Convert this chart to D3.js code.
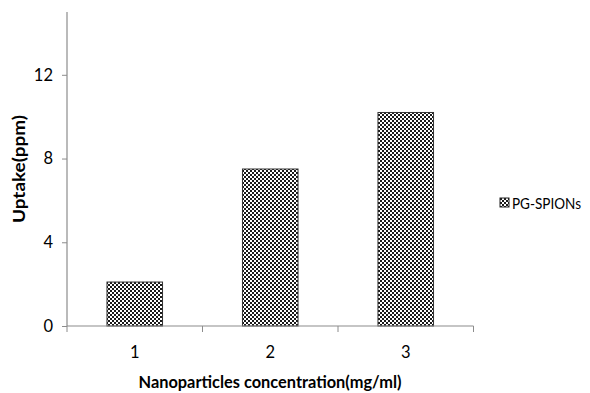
<!DOCTYPE html>
<html>
<head>
<meta charset="utf-8">
<script src="https://cdn.jsdelivr.net/npm/d3@7"></script>
<style>
  html, body { margin: 0; padding: 0; background: #fff; }
  svg { display: block; }
  text { font-family: Lato, "Open Sans", sans-serif; fill: #000; }
</style>
</head>
<body>
<svg id="chart" width="590" height="393"></svg>
<script>
// Uptake by concentration
const categories = ["1", "2", "3"];
const uptake = [2.1, 7.5, 10.2];
const yTicks = [0, 4, 8, 12];
const seriesName = "PG-SPIONs";
const xTitle = "Nanoparticles concentration(mg/ml)";
const yTitle = "Uptake(ppm)";

const svg = d3.select("#chart");
const plot = { left: 67, right: 473.5, top: 12, bottom: 326 };

// checkerboard fill
const defs = svg.append("defs");
const pat = defs.append("pattern")
  .attr("id", "checker").attr("patternUnits", "userSpaceOnUse")
  .attr("width", 4).attr("height", 4);
pat.append("rect").attr("width", 4).attr("height", 4).attr("fill", "#fff");
pat.append("rect").attr("width", 2).attr("height", 2).attr("fill", "#1a1a1a");
pat.append("rect").attr("x", 2).attr("y", 2).attr("width", 2).attr("height", 2).attr("fill", "#1a1a1a");

const x = d3.scaleBand().domain(categories).range([plot.left, plot.right]).paddingInner(0.59).paddingOuter(0.295);
const xCat = d3.scaleBand().domain(categories).range([plot.left, plot.right]);
const y = d3.scaleLinear().domain([0, 15]).range([plot.bottom, plot.top]);

// bars
svg.append("g").selectAll("rect").data(uptake).join("rect")
  .attr("x", (d, i) => x(categories[i]))
  .attr("width", x.bandwidth())
  .attr("y", d => y(d))
  .attr("height", d => y(0) - y(d))
  .attr("fill", "url(#checker)")
  .attr("stroke", "#333").attr("stroke-width", 1);

// y axis
const yAxis = svg.append("g").attr("transform", `translate(${plot.left},0)`)
  .call(d3.axisLeft(y).tickValues(yTicks).tickSize(5).tickPadding(9).tickFormat(d3.format("d")));
yAxis.select(".domain").attr("stroke", "#8c8c8c").attr("stroke-width", 1.2)
  .attr("d", `M0,${plot.top}V${plot.bottom}`);
yAxis.selectAll(".tick line").attr("stroke", "#8c8c8c");
yAxis.selectAll(".tick text").attr("font-size", 16.5).attr("font-family", "Lato, sans-serif").attr("fill", "#000");

// x axis
const xAxis = svg.append("g").attr("transform", `translate(0,${plot.bottom})`)
  .call(d3.axisBottom(xCat).tickSize(0).tickPadding(20));
xAxis.select(".domain").attr("stroke", "#8c8c8c").attr("stroke-width", 1.2)
  .attr("d", `M${plot.left},0H${plot.right}`);
xAxis.selectAll(".tick text").attr("font-size", 16.5).attr("font-family", "Lato, sans-serif").attr("fill", "#000");
// boundary ticks between categories
const bounds = categories.map(c => xCat(c)).concat([plot.right]);
xAxis.selectAll(".bound").data(bounds).join("line").attr("class", "bound")
  .attr("x1", d => d).attr("x2", d => d).attr("y1", 0).attr("y2", 6)
  .attr("stroke", "#8c8c8c");

// titles
svg.append("text").attr("x", 270).attr("y", 388).attr("text-anchor", "middle")
  .attr("font-weight", "bold").attr("font-size", 17.5)
  .attr("textLength", 263).attr("lengthAdjust", "spacingAndGlyphs").text(xTitle);
svg.append("text").attr("transform", "translate(25,169) rotate(-90)").attr("text-anchor", "middle")
  .attr("font-weight", "bold").attr("font-size", 17.5)
  .attr("textLength", 108).attr("lengthAdjust", "spacingAndGlyphs").text(yTitle);

// legend
const lg = svg.append("g").attr("transform", "translate(500,198)");
lg.append("rect").attr("width", 9).attr("height", 9).attr("fill", "url(#checker)")
  .attr("stroke", "#222").attr("stroke-width", 1);
lg.append("text").attr("x", 12).attr("y", 11).attr("font-size", 15.5)
  .attr("textLength", 69).attr("lengthAdjust", "spacingAndGlyphs").text(seriesName);
</script>
</body>
</html>
